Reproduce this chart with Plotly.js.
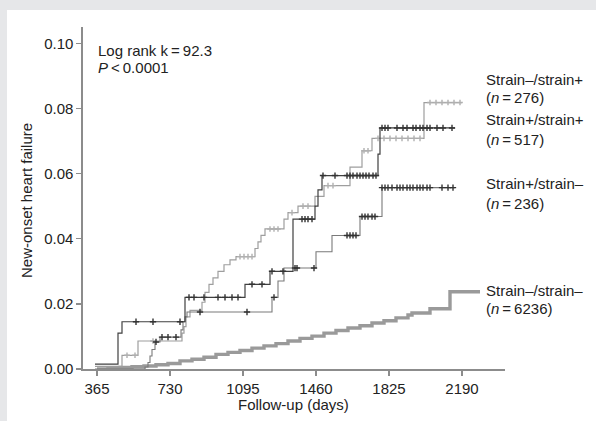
<!DOCTYPE html>
<html>
<head>
<meta charset="utf-8">
<script src="https://cdn.plot.ly/plotly-3.0.1.min.js"></script>
<style>
  html, body { margin: 0; padding: 0; background: #e6e7e9; width: 596px; height: 421px; overflow: hidden; }
  #chart { position: absolute; left: 7px; top: 10px; width: 589px; height: 411px; background: #fff; }
</style>
</head>
<body>
<div id="chart"></div>
<script>
// ---- data ----
const groupNames = ["Strain\u2013/strain+", "Strain+/strain+", "Strain+/strain\u2013", "Strain\u2013/strain\u2013"];
const groupN = [276, 517, 236, 6236];

// Strain-/strain+ (n=276)
const smpDays = [355, 490, 570, 790, 800, 810, 830, 890, 905, 925, 945, 970, 1000, 1030, 1060, 1155, 1170, 1185, 1205, 1300, 1320, 1370, 1455, 1500, 1630, 1690, 1740, 2000, 2190];
const smpRisk = [0.0008, 0.0042, 0.0086, 0.011, 0.013, 0.016, 0.018, 0.0205, 0.0235, 0.026, 0.028, 0.030, 0.032, 0.0335, 0.0345, 0.037, 0.039, 0.041, 0.043, 0.046, 0.048, 0.050, 0.053, 0.0563, 0.062, 0.067, 0.0708, 0.0818, 0.0818];
const smpCens = [515, 555, 645, 1080, 1100, 1120, 1140, 1230, 1250, 1270, 1340, 1395, 1420, 1520, 1545, 1700, 1720, 1770, 1800, 1830, 1860, 1890, 1920, 1950, 1980, 2030, 2060, 2090, 2120, 2150, 2180];

// Strain+/strain+ (n=517)
const sppDays = [355, 470, 490, 805, 1105, 1230, 1345, 1455, 1470, 1490, 1770, 1780, 2155];
const sppRisk = [0.0015, 0.011, 0.0145, 0.022, 0.026, 0.030, 0.046, 0.050, 0.055, 0.0594, 0.066, 0.074, 0.074];
const sppCens = [560, 645, 780, 825, 850, 900, 970, 1005, 1040, 1070, 1140, 1190, 1240, 1295, 1390, 1405, 1420, 1440, 1495, 1555, 1615, 1630, 1645, 1665, 1680, 1695, 1710, 1725, 1745, 1760, 1790, 1805, 1820, 1865, 1895, 1915, 1945, 1960, 1980, 1995, 2015, 2030, 2065, 2095, 2140];

// Strain+/strain- (n=236)
const spmDays = [355, 605, 620, 630, 640, 655, 680, 785, 795, 805, 815, 1240, 1270, 1300, 1460, 1540, 1680, 1790, 2155];
const spmRisk = [0, 0.0006, 0.002, 0.004, 0.006, 0.0083, 0.0098, 0.012, 0.0145, 0.016, 0.0175, 0.022, 0.027, 0.031, 0.036, 0.041, 0.0468, 0.0557, 0.0557];
const spmCens = [660, 690, 720, 760, 880, 1115, 1250, 1355, 1365, 1450, 1615, 1630, 1645, 1660, 1690, 1705, 1720, 1740, 1755, 1790, 1805, 1820, 1840, 1865, 1880, 1895, 1915, 1930, 1945, 1965, 1980, 1995, 2015, 2030, 2090, 2120, 2145];

// Strain-/strain- (n=6236)
const smmDays = [365, 420, 480, 540, 600, 660, 720, 780, 840, 900, 960, 1020, 1080, 1140, 1200, 1260, 1320, 1380, 1440, 1500, 1560, 1620, 1680, 1740, 1800, 1860, 1920, 1940, 2030, 2130, 2280];
const smmRisk = [0.0000, 0.0003, 0.0005, 0.0007, 0.0009, 0.0013, 0.0017, 0.0025, 0.0030, 0.0036, 0.0045, 0.0051, 0.0057, 0.0064, 0.0071, 0.0078, 0.0086, 0.0094, 0.0101, 0.0110, 0.0118, 0.0126, 0.0133, 0.0141, 0.0148, 0.0157, 0.0166, 0.0172, 0.0185, 0.0237, 0.0237];

const xTicks = [365, 730, 1095, 1460, 1825, 2190];
const yTicks = [0, 0.02, 0.04, 0.06, 0.08, 0.10];

// ---- helpers ----
function stepAt(days, risk, t) {
  let v = risk[0];
  for (let i = 0; i < days.length; i++) { if (days[i] <= t) v = risk[i]; }
  return v;
}
function stepTrace(days, risk, color, width) {
  return { x: days, y: risk, type: 'scatter', mode: 'lines', line: { shape: 'hv', color: color, width: width }, hoverinfo: 'skip', showlegend: false };
}
function censTrace(days, risk, cens, color, size) {
  return { x: cens, y: cens.map(t => stepAt(days, risk, t)), type: 'scatter', mode: 'markers',
    marker: { symbol: 'cross-thin-open', size: size, color: color, line: { color: color, width: 1.4 } },
    hoverinfo: 'skip', showlegend: false, cliponaxis: false };
}

const traces = [
  stepTrace(smmDays, smmRisk, '#9a9a9a', 3.4),
  stepTrace(smpDays, smpRisk, '#9e9e9e', 1.2),
  censTrace(smpDays, smpRisk, smpCens, '#b0b0b0', 4),
  stepTrace(spmDays, spmRisk, '#7a7a7a', 1.1),
  censTrace(spmDays, spmRisk, spmCens, '#333333', 4.5),
  stepTrace(sppDays, sppRisk, '#404040', 1.2),
  censTrace(sppDays, sppRisk, sppCens, '#333333', 4.5)
];

const FONT = 'Liberation Sans, Arial, Helvetica, sans-serif';
const TXT = '#222222';

// plot area: x 83..505 px, y 27..369 px (page coords)
function px2paperX(px) { return (px - 83) / 422; }
function py2paperY(py) { return (369 - py) / 342; }

function lab(text, px, py, extra) {
  return Object.assign({ text: text, xref: 'paper', yref: 'paper', x: px2paperX(px), y: py2paperY(py),
    xanchor: 'left', yanchor: 'middle', showarrow: false, font: { family: FONT, size: 15, color: TXT } }, extra || {});
}

const labelY = [[79, 97], [120, 139], [184, 203], [290, 308]];
const annotations = [
  lab('Log rank k\u2009=\u200992.3', 96, 50),
  lab('<i>P</i>\u2009&lt;\u20090.0001', 96, 68),
  lab('New-onset heart failure', 27, 200, { xanchor: 'center', textangle: -90 }),
  lab('Follow-up (days)', 293, 405, { xanchor: 'center' })
];
groupNames.forEach((g, i) => {
  annotations.push(lab(g, 484, labelY[i][0]));
  annotations.push(lab('(<i>n</i>\u2009=\u2009' + groupN[i] + ')', 484, labelY[i][1]));
});

const layout = {
  width: 589, height: 411,
  margin: { l: 76, r: 91, t: 17, b: 52 },
  paper_bgcolor: '#ffffff', plot_bgcolor: '#ffffff',
  font: { family: FONT, size: 15, color: TXT },
  showlegend: false,
  xaxis: { range: [295, 2405], tickvals: xTicks, ticktext: xTicks.map(String), showgrid: false, zeroline: false,
    showline: true, linecolor: '#8c8c8c', linewidth: 1.6, ticks: 'outside', ticklen: 5, tickwidth: 1.5, tickcolor: '#8c8c8c',
    tickfont: { family: FONT, size: 15, color: TXT } },
  yaxis: { range: [0, 0.105], tickvals: yTicks, tickformat: '.2f', showgrid: false, zeroline: false,
    showline: true, linecolor: '#8c8c8c', linewidth: 1.6, ticks: 'outside', ticklen: 5, tickwidth: 1.5, tickcolor: '#8c8c8c',
    tickfont: { family: FONT, size: 15, color: TXT } },
  annotations: annotations
};

Plotly.newPlot('chart', traces, layout, { staticPlot: true, displayModeBar: false });
</script>
</body>
</html>
